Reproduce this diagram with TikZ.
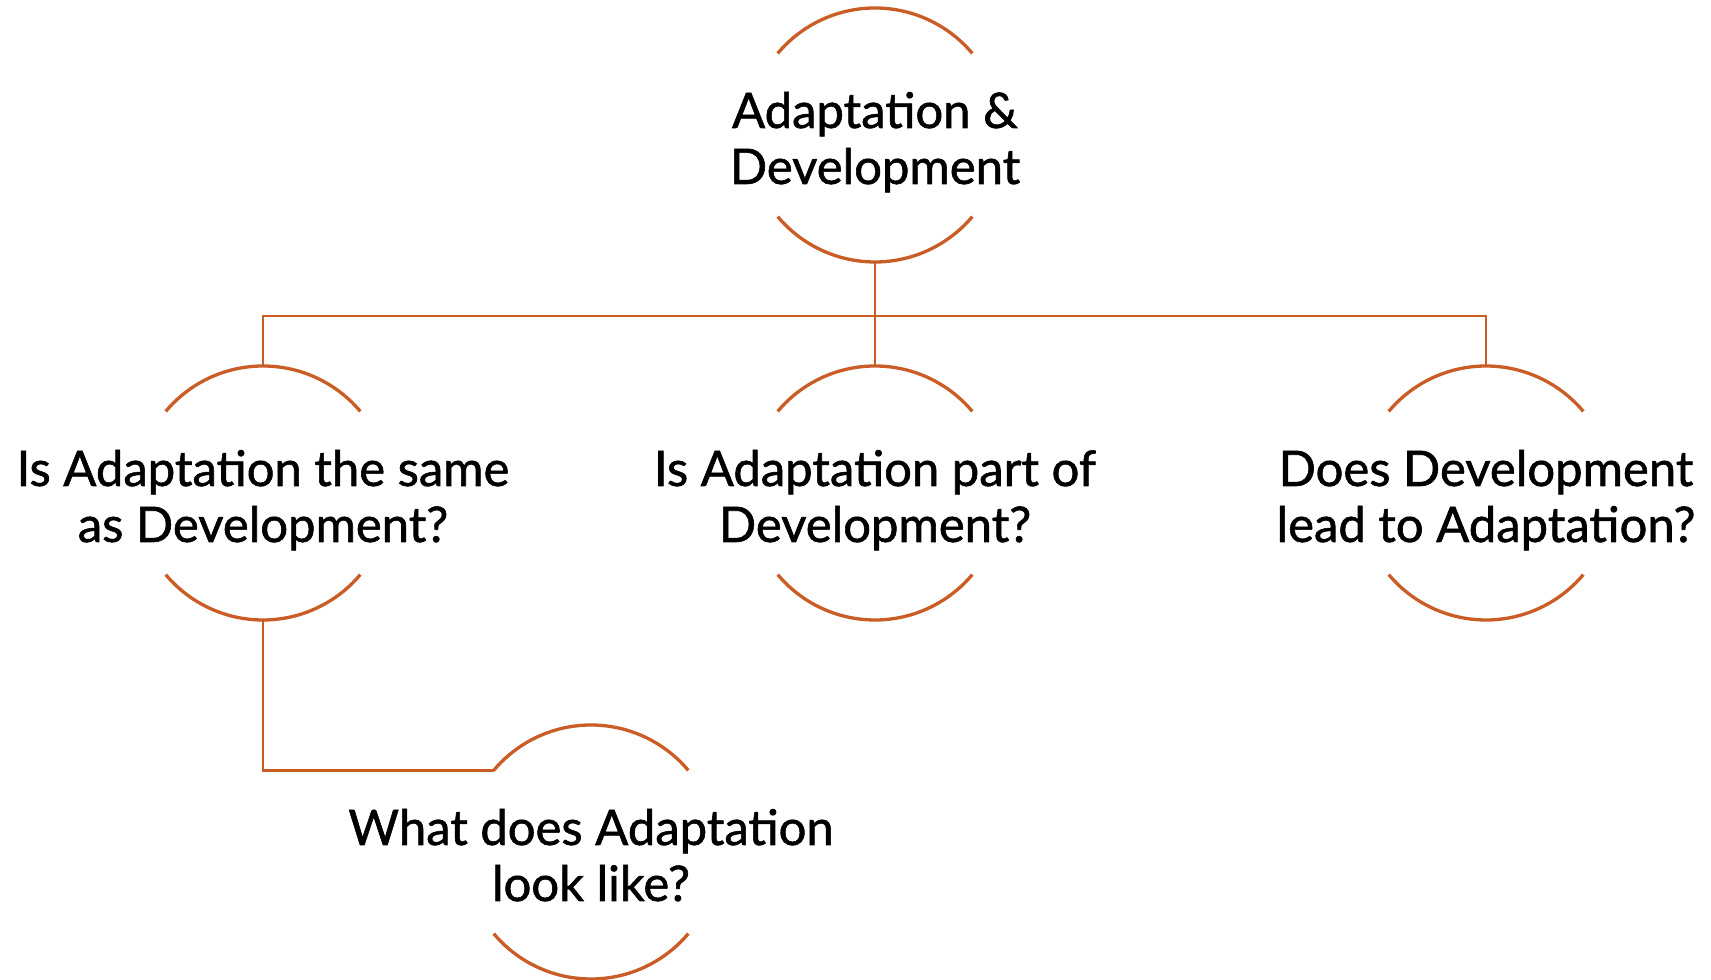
\documentclass[tikz,border=0pt]{standalone}
\usepackage{fontspec}
\setmainfont{Lato}[FakeBold=1.2]
\definecolor{arcor}{RGB}{202,92,38}
\newcommand\bubtxt[1]{\smash{\makebox[0pt]{\raisebox{-16pt}{\begin{tabular}{@{}c@{}}#1\end{tabular}}}}}
\begin{document}
\begin{tikzpicture}[x=1pt,y=1pt,
  bub/.style={circle,minimum size=254pt,inner sep=0pt,outer sep=0pt,
    font=\fontsize{49}{56}\selectfont,text=black},
  arcline/.style={draw=arcor,line width=3.3pt},
  conn/.style={draw=arcor,line width=2.6pt}]
\useasboundingbox (0,0) rectangle (1711,980);
\node[bub] (top) at (875,845) {\bubtxt{Adaptation \&\\Development}};
\node[bub] (left) at (263,487) {\bubtxt{Is Adaptation the same\\as Development?}};
\node[bub] (mid) at (875,487) {\bubtxt{Is Adaptation part of\\Development?}};
\node[bub] (right) at (1486,487) {\bubtxt{Does Development\\lead to Adaptation?}};
\node[bub] (child) at (591,128) {\bubtxt{What does Adaptation\\look like?}};
\foreach \n in {top,left,mid,right,child}{
  \draw[arcline] (\n.40) arc[start angle=40,end angle=140,radius=127pt];
  \draw[arcline] (\n.220) arc[start angle=220,end angle=320,radius=127pt];
}
\coordinate (junc) at (875,664);
\draw[conn] (top.south) -- (mid.north);
\draw[conn] (left.north) |- (junc) -| (right.north);
\draw[conn] (left.south) |- (child.140);
\end{tikzpicture}
\end{document}
